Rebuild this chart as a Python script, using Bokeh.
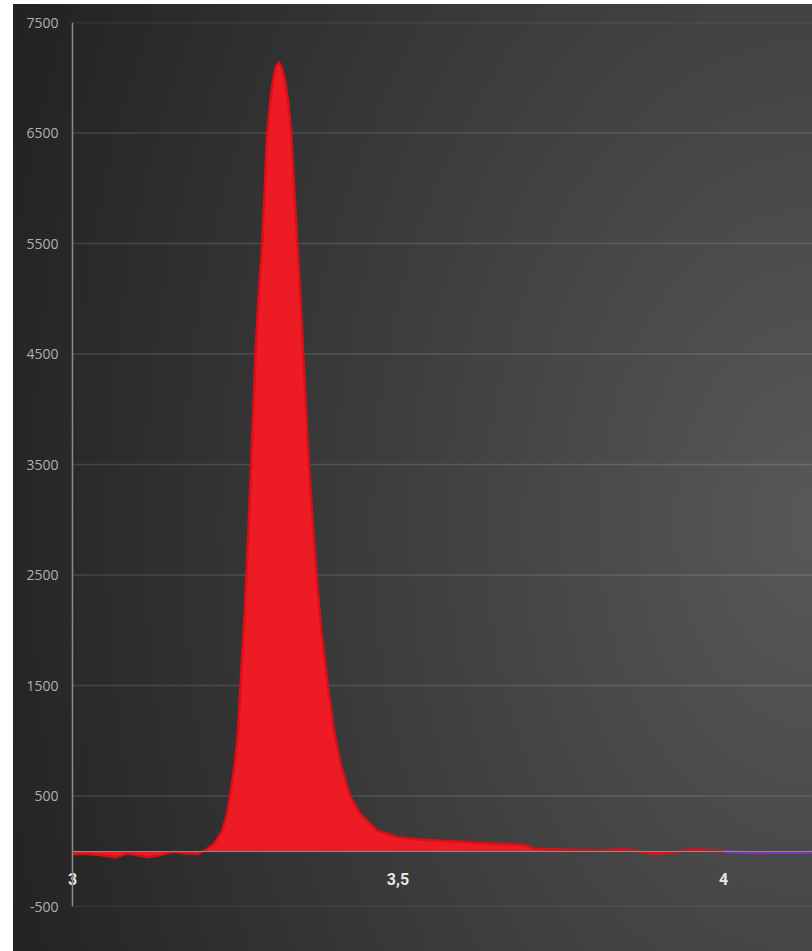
from bokeh.plotting import figure
from bokeh.models import FixedTicker, Range1d, Span
from bokeh.embed import file_html
from bokeh.resources import INLINE

# Red trace (retention time vs. signal)
red_x = [3.000, 3.020, 3.043, 3.066, 3.084, 3.104, 3.117, 3.135, 3.155, 3.174,
         3.192, 3.2017, 3.2171, 3.2300, 3.2376, 3.2416, 3.2493, 3.2545, 3.2581, 3.2631,
         3.2673, 3.2745, 3.2811, 3.2857, 3.2914, 3.2991, 3.3041, 3.3088, 3.3126, 3.3169,
         3.3210, 3.3256, 3.3310, 3.3359, 3.3452, 3.3502, 3.3544, 3.3630, 3.3687, 3.3748,
         3.3820, 3.3922, 3.4014, 3.4117, 3.4270, 3.4424, 3.4680, 3.4988, 3.5346, 3.5653,
         3.596, 3.627, 3.657, 3.680, 3.696, 3.7066, 3.7266, 3.7496, 3.780, 3.811,
         3.842, 3.865, 3.892, 3.919, 3.942, 3.960, 3.980, 4.000]
red_y = [-25, -25, -35, -55, -20, -40, -55, -35, -5, -20,
         -25, 3, 64, 185, 336, 488, 791, 1094, 1497, 2003,
         2497, 3500, 4500, 5000, 5500, 6500, 6800, 7000, 7100, 7140,
         7100, 7000, 6800, 6500, 5500, 5000, 4500, 3500, 3000, 2500,
         2000, 1500, 1100, 790, 490, 336, 185, 127, 105, 95,
         85, 75, 65, 62, 55, 25, 20, 15, 10, 5,
         18, 5, -25, -15, 10, 18, 5, 0]

# Purple trace
purple_x = [4.000, 4.026, 4.057, 4.088, 4.118, 4.137]
purple_y = [0, -10, -15, -10, -12, -10]

y_ticks = [-500, 500, 1500, 2500, 3500, 4500, 5500, 6500, 7500]
y_labels = ["-500", "500", "1500", "2500", "3500", "4500", "5500", "6500", "7500"]
x_ticks = [3, 3.5, 4]
x_labels = ["3", "3,5", "4"]

X_START, X_END = 3.0, 4.1367
PAD = 12 / 651.0  # a little room left of x=3 so the "3" label is not clipped

p = figure(width=799, height=947,
           x_range=Range1d(X_START - PAD, X_END), y_range=Range1d(-500, 7500),
           output_backend="svg", toolbar_location=None,
           min_border_left=47, min_border_right=0,
           min_border_top=18, min_border_bottom=45,
           background_fill_alpha=0, border_fill_alpha=0,
           outline_line_color=None,
           margin=(4, 0, 0, 13))
p.styles = {"background": "radial-gradient(ellipse 120% 150% at 100% 55%, #585858 0%, #3a3a3a 50%, #222222 90%)"}

# horizontal grid lines, starting at the value axis
p.segment(x0=[X_START] * len(y_ticks), y0=y_ticks,
          x1=[X_END] * len(y_ticks), y1=y_ticks,
          line_color="white", line_alpha=0.13, line_width=1.5)

p.varea(x=red_x, y1=[0] * len(red_x), y2=red_y, fill_color="#ed1c24", fill_alpha=1.0)
p.line(red_x, red_y, line_color="#dc0f18", line_width=2.5, line_join="round")
p.line(purple_x, purple_y, line_color="#7d35b5", line_width=3, line_join="round")

# value axis line at x = 3
p.add_layout(Span(location=X_START, dimension="height",
                  line_color="#8a8a8a", line_width=1.5))

# y axis labels
p.yaxis.ticker = FixedTicker(ticks=y_ticks)
p.yaxis.major_label_overrides = {t: l for t, l in zip(y_ticks, y_labels)}
p.yaxis.axis_line_color = None
p.yaxis.major_tick_line_color = None
p.yaxis.major_tick_out = 0
p.yaxis.major_tick_in = 0
p.yaxis.minor_tick_line_color = None
p.yaxis.major_label_standoff = 2
p.yaxis.major_label_text_color = "#b0b0b0"
p.yaxis.major_label_text_font = "Open Sans"
p.yaxis.major_label_text_font_size = "14px"

# x axis crossing at 0
p.xaxis.ticker = FixedTicker(ticks=x_ticks)
p.xaxis.major_label_overrides = {t: l for t, l in zip(x_ticks, x_labels)}
p.xaxis.fixed_location = 0
p.xaxis.bounds = (X_START, X_END)
p.xaxis.axis_line_color = "#8c8c8c"
p.xaxis.axis_line_width = 1
p.xaxis.major_tick_line_color = None
p.xaxis.minor_tick_line_color = None
p.xaxis.major_label_standoff = 16
p.xaxis.major_label_text_color = "#e6e6e6"
p.xaxis.major_label_text_font = "Roboto"
p.xaxis.major_label_text_font_style = "bold"
p.xaxis.major_label_text_font_size = "16px"

p.xgrid.grid_line_color = None
p.ygrid.grid_line_color = None

open("out.html", "w").write(file_html(p, INLINE))
